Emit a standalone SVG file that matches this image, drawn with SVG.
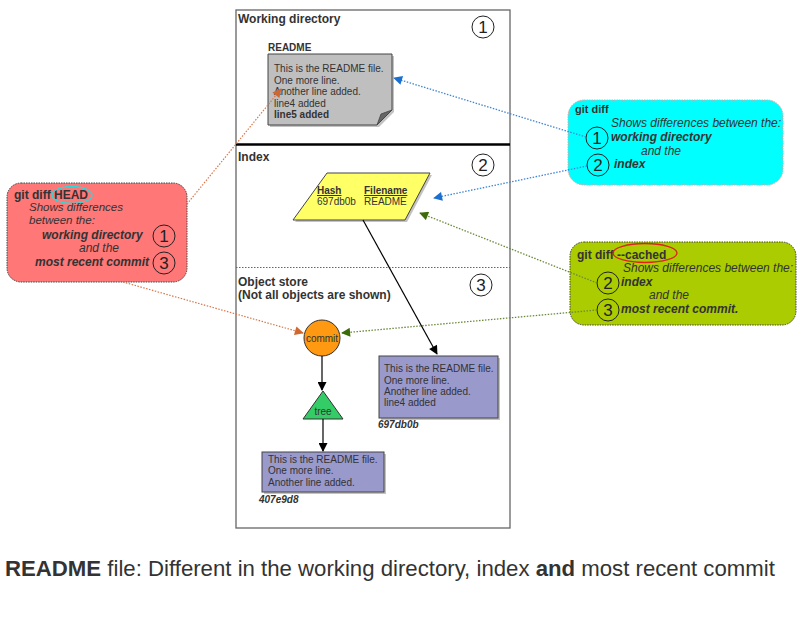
<svg xmlns="http://www.w3.org/2000/svg" width="800" height="618" viewBox="0 0 800 618">
<defs>
<style>
text{font-family:"Liberation Sans",Arial,sans-serif;fill:#333}
.lbl{font-size:12px;font-weight:bold}
.t{font-size:10px}
.m{font-size:12px}
.b{font-weight:bold}
.i{font-style:italic}
.bi{font-weight:bold;font-style:italic}
.num{fill:none;stroke:#222;stroke-width:1}
.numt{font-size:17px;fill:#222}
.shadow{fill:#999;opacity:0.6}
.blue{fill:none;stroke:#3d86d8;stroke-width:1.3;stroke-dasharray:1.5 1.5}
.green{fill:none;stroke:#6a8a3a;stroke-width:1.3;stroke-dasharray:1.5 1.5}
.orange{fill:none;stroke:#d9774a;stroke-width:1.2;stroke-dasharray:1.5 1.5}
.solid{fill:none;stroke:#000;stroke-width:1.2}
</style>
<marker id="mBlue" viewBox="0 0 10 10" refX="9" refY="5" markerWidth="11" markerHeight="9" markerUnits="userSpaceOnUse" orient="auto"><path d="M0,0 L10,5 L0,10 Z" fill="#1a6fd0"/></marker>
<marker id="mGreen" viewBox="0 0 10 10" refX="9" refY="5" markerWidth="11" markerHeight="9" markerUnits="userSpaceOnUse" orient="auto"><path d="M0,0 L10,5 L0,10 Z" fill="#3d6b0a"/></marker>
<marker id="mOrange" viewBox="0 0 10 10" refX="9" refY="5" markerWidth="11" markerHeight="9" markerUnits="userSpaceOnUse" orient="auto"><path d="M0,0 L10,5 L0,10 Z" fill="#d0672e"/></marker>
<marker id="mBlack" viewBox="0 0 10 10" refX="9" refY="5" markerWidth="11" markerHeight="9" markerUnits="userSpaceOnUse" orient="auto"><path d="M0,0 L10,5 L0,10 Z" fill="#000"/></marker>
</defs>
<rect width="800" height="618" fill="#fff"/>

<g id="frame">
<rect x="236" y="10" width="274" height="518" fill="#fff" stroke="#666" stroke-width="1.3"/>
<line x1="236" y1="144.5" x2="510" y2="144.5" stroke="#000" stroke-width="2.5"/>
<line x1="236" y1="267.5" x2="510" y2="267.5" stroke="#666" stroke-width="1.2" stroke-dasharray="1.5 1.5"/>
<text x="238" y="23" class="lbl">Working directory</text>
<circle cx="483" cy="27" r="11" class="num"/><text x="483" y="33" class="numt" text-anchor="middle">1</text>
<text x="238" y="161" class="lbl">Index</text>
<circle cx="483" cy="165" r="11" class="num"/><text x="483" y="171" class="numt" text-anchor="middle">2</text>
<text x="238" y="286" class="lbl">Object store</text>
<text x="238" y="299" class="lbl">(Not all objects are shown)</text>
<circle cx="481" cy="285" r="11" class="num"/><text x="481" y="291" class="numt" text-anchor="middle">3</text>
</g>

<g id="wd-readme">
<text x="268" y="51" class="t b">README</text>
<path d="M270,56 H394 V112 L379,127 H270 Z" class="shadow"/>
<path d="M268,54 H392 V110 L377,125 H268 Z" fill="#bfbfbf" stroke="#444" stroke-width="1"/>
<path d="M377,125 L381,114 L392,110 Z" fill="#666" stroke="#444" stroke-width="0.8"/>
<text x="274" y="72" class="t">This is the README file.</text>
<text x="274" y="83.5" class="t">One more line.</text>
<text x="274" y="95" class="t">Another line added.</text>
<text x="274" y="106.5" class="t">line4 added</text>
<text x="274" y="118" class="t b">line5 added</text>
</g>

<g id="index-entry">
<path d="M329,175 L432,175 L407,222 L295,222 Z" class="shadow"/>
<path d="M327,173 L430,173 L405,220 L293,220 Z" fill="#ffff66" stroke="#444" stroke-width="1"/>
<text x="317" y="194" class="t b" text-decoration="underline">Hash</text>
<text x="364" y="194" class="t b" text-decoration="underline">Filename</text>
<text x="317" y="205" class="t">697db0b</text>
<text x="364" y="205" class="t">README</text>
</g>

<g id="commit">
<circle cx="322" cy="338" r="18" fill="#ff9911" stroke="#333" stroke-width="1"/>
<text x="322" y="341.5" font-size="10px" text-anchor="middle">commit</text>
</g>

<g id="tree">
<path d="M323,391 L343,419 L303,419 Z" fill="#33cc66" stroke="#333" stroke-width="1"/>
<text x="323" y="414.5" font-size="10px" text-anchor="middle">tree</text>
</g>

<g id="blob-697db0b">
<rect x="381" y="358" width="119" height="62" class="shadow"/>
<rect x="379" y="356" width="119" height="62" fill="#9999cc" stroke="#444" stroke-width="1"/>
<text x="384" y="372" class="t">This is the README file.</text>
<text x="384" y="383.5" class="t">One more line.</text>
<text x="384" y="395" class="t">Another line added.</text>
<text x="384" y="406" class="t">line4 added</text>
<text x="378" y="428" font-size="10px" class="bi">697db0b</text>
</g>

<g id="blob-407e9d8">
<rect x="264" y="454" width="122" height="40" class="shadow"/>
<rect x="262" y="452" width="122" height="40" fill="#9999cc" stroke="#444" stroke-width="1"/>
<text x="268" y="463" class="t">This is the README file.</text>
<text x="268" y="474" class="t">One more line.</text>
<text x="268" y="485.5" class="t">Another line added.</text>
<text x="259" y="503" font-size="10px" class="bi">407e9d8</text>
</g>

<g id="git-diff">
<rect x="568" y="100" width="215" height="85" rx="16" fill="#00ffff" stroke="#f0a0a0" stroke-width="1" stroke-dasharray="1.5 1"/>
<text x="575" y="113" class="b" font-size="11px">git diff</text>
<text x="611" y="127" class="m i">Shows differences between the:</text>
<circle cx="597" cy="138" r="11" class="num"/><text x="597" y="144" class="numt" text-anchor="middle">1</text>
<text x="611" y="141" class="m bi">working directory</text>
<text x="641" y="154.5" class="m i">and the</text>
<circle cx="598" cy="165" r="11" class="num"/><text x="598" y="171" class="numt" text-anchor="middle">2</text>
<text x="614" y="168" class="m bi">index</text>
</g>

<g id="git-diff-cached">
<rect x="570" y="242" width="226" height="83" rx="14" fill="#aacc00" stroke="#444" stroke-width="1" stroke-dasharray="1.5 1"/>
<text x="577" y="259" class="m b">git diff --cached</text>
<ellipse cx="645" cy="253" rx="32" ry="9.5" fill="none" stroke="#dd2222" stroke-width="1.3"/>
<text x="623" y="272" class="m i">Shows differences between the:</text>
<circle cx="608" cy="283" r="11" class="num"/><text x="608" y="289" class="numt" text-anchor="middle">2</text>
<text x="621" y="285.5" class="m bi">index</text>
<text x="649" y="299" class="m i">and the</text>
<circle cx="608" cy="310" r="11" class="num"/><text x="608" y="316" class="numt" text-anchor="middle">3</text>
<text x="621" y="312.5" class="m bi">most recent commit.</text>
</g>

<g id="git-diff-head">
<rect x="7" y="183" width="180" height="99" rx="14" fill="#ff7777" stroke="#444" stroke-width="1" stroke-dasharray="1.5 1"/>
<text x="14" y="199" class="m b">git diff HEAD</text>
<ellipse cx="72" cy="195" rx="20" ry="8.5" fill="none" stroke="#22dddd" stroke-width="1.3"/>
<text x="29" y="210.5" font-size="11.5px" class="i">Shows differences</text>
<text x="29" y="224" font-size="11.5px" class="i">between the:</text>
<text x="42" y="238.5" class="m bi">working directory</text>
<circle cx="164" cy="236" r="11" class="num"/><text x="164" y="242" class="numt" text-anchor="middle">1</text>
<text x="79" y="252" class="m i">and the</text>
<text x="35" y="266" class="m bi">most recent commit</text>
<circle cx="164" cy="263" r="11" class="num"/><text x="164" y="269" class="numt" text-anchor="middle">3</text>
</g>

<g id="connectors">
<line x1="586" y1="137" x2="394" y2="78" class="blue" marker-end="url(#mBlue)"/>
<line x1="587" y1="166" x2="434" y2="198" class="blue" marker-end="url(#mBlue)"/>
<line x1="597" y1="283" x2="420" y2="213" class="green" marker-end="url(#mGreen)"/>
<line x1="597" y1="310" x2="342" y2="333" class="green" marker-end="url(#mGreen)"/>
<line x1="187" y1="204" x2="281" y2="89" class="orange" marker-end="url(#mOrange)"/>
<line x1="123" y1="282" x2="303" y2="333" class="orange" marker-end="url(#mOrange)"/>
<line x1="363" y1="220" x2="437" y2="354" class="solid" marker-end="url(#mBlack)"/>
<line x1="322" y1="356" x2="322" y2="390" class="solid" marker-end="url(#mBlack)"/>
<line x1="323" y1="419" x2="323" y2="451" class="solid" marker-end="url(#mBlack)"/>
</g>

<g id="caption">
<text x="5" y="576" font-size="22.2px" fill="#333"><tspan font-weight="bold">README</tspan> file: Different in the working directory, index <tspan font-weight="bold">and</tspan> most recent commit</text>
</g>
</svg>
